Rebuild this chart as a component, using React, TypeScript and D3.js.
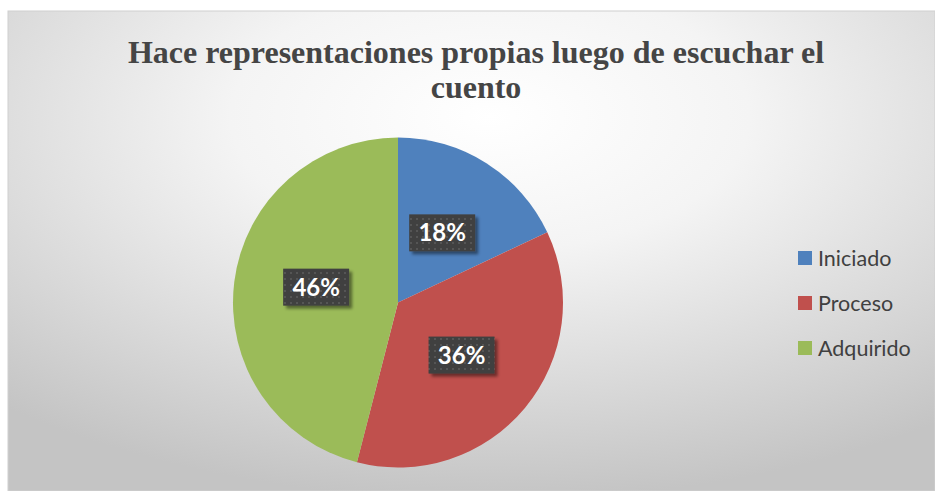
import React from "react";
import * as d3 from "d3";

const categories = ["Iniciado", "Proceso", "Adquirido"];
const values = [18, 36, 46];
const colors = ["#4F81BD", "#C0504D", "#9BBB59"];
const titleLines = ["Hace representaciones propias luego de escuchar el", "cuento"];

export default function App() {
  const W = 935, H = 491;
  const cx = 398, cy = 302.5, r = 165;
  const pie = d3.pie<number>().sort(null).value((d) => d)(values);
  const arc = d3.arc<d3.PieArcDatum<number>>().innerRadius(0).outerRadius(r);
  const labelArc = d3.arc<d3.PieArcDatum<number>>().innerRadius(r * 0.5).outerRadius(r * 0.5);
  const legendY = d3.scalePoint<string>().domain(categories).range([258, 348]);
  return (
    <svg width={W} height={H} style={{ position: "absolute", left: 0, top: 0 }}>
      <defs>
        <radialGradient id="bg" cx="0.52" cy="0.22" r="0.8" gradientUnits="objectBoundingBox">
          <stop offset="0" stopColor="#ffffff" />
          <stop offset="0.35" stopColor="#f4f4f4" />
          <stop offset="1" stopColor="#c4c4c4" />
        </radialGradient>
        <pattern id="dots" width="6" height="6" patternUnits="userSpaceOnUse">
          <rect width="6" height="6" fill="#3f3f3f" />
          <rect x="2" y="2" width="2" height="2" fill="#555555" />
        </pattern>
        <filter id="sh" x="-20%" y="-20%" width="150%" height="150%">
          <feDropShadow dx="3" dy="3" stdDeviation="1.5" floodColor="#000" floodOpacity="0.45" />
        </filter>
      </defs>
      <rect x={0} y={0} width={W} height={H} fill="#ffffff" />
      <rect x={8} y={11} width={W - 8} height={H - 11} fill="url(#bg)" stroke="#d0d0d0" strokeWidth={1} />
      <text textAnchor="middle" fontFamily="'Liberation Serif', 'Times New Roman', serif" fontWeight="bold" fontSize={32} fill="#454545">
        <tspan x={476} y={63}>{titleLines[0]}</tspan>
        <tspan x={476} y={98}>{titleLines[1]}</tspan>
      </text>
      <g transform={`translate(${cx},${cy})`}>
        {pie.map((d, i) => (
          <path key={i} d={arc(d) as string} fill={colors[i]} />
        ))}
      </g>
      {pie.map((d, i) => {
        const [lx, ly] = labelArc.centroid(d);
        const label = `${values[i]}%`;
        const bw = 66, bh = 37;
        const x = cx + lx, y = cy + ly - (i === 2 ? 5 : 0);
        return (
          <g key={i}>
            <rect x={x - bw / 2} y={y - bh / 2} width={bw} height={bh} fill="url(#dots)" filter="url(#sh)" />
            <text x={x} y={y} dy="0.36em" textAnchor="middle" fontFamily="Lato, 'Open Sans', sans-serif" fontWeight="bold" fontSize={24} fill="#ffffff">
              {label}
            </text>
          </g>
        );
      })}
      {categories.map((c, i) => (
        <g key={c} transform={`translate(798,${legendY(c)})`}>
          <rect x={0} y={-7} width={14} height={14} fill={colors[i]} />
          <text x={20} y={0} dy="0.35em" fontFamily="Lato, 'Open Sans', sans-serif" fontSize={21.5} fill="#404040">
            {c}
          </text>
        </g>
      ))}
    </svg>
  );
}
